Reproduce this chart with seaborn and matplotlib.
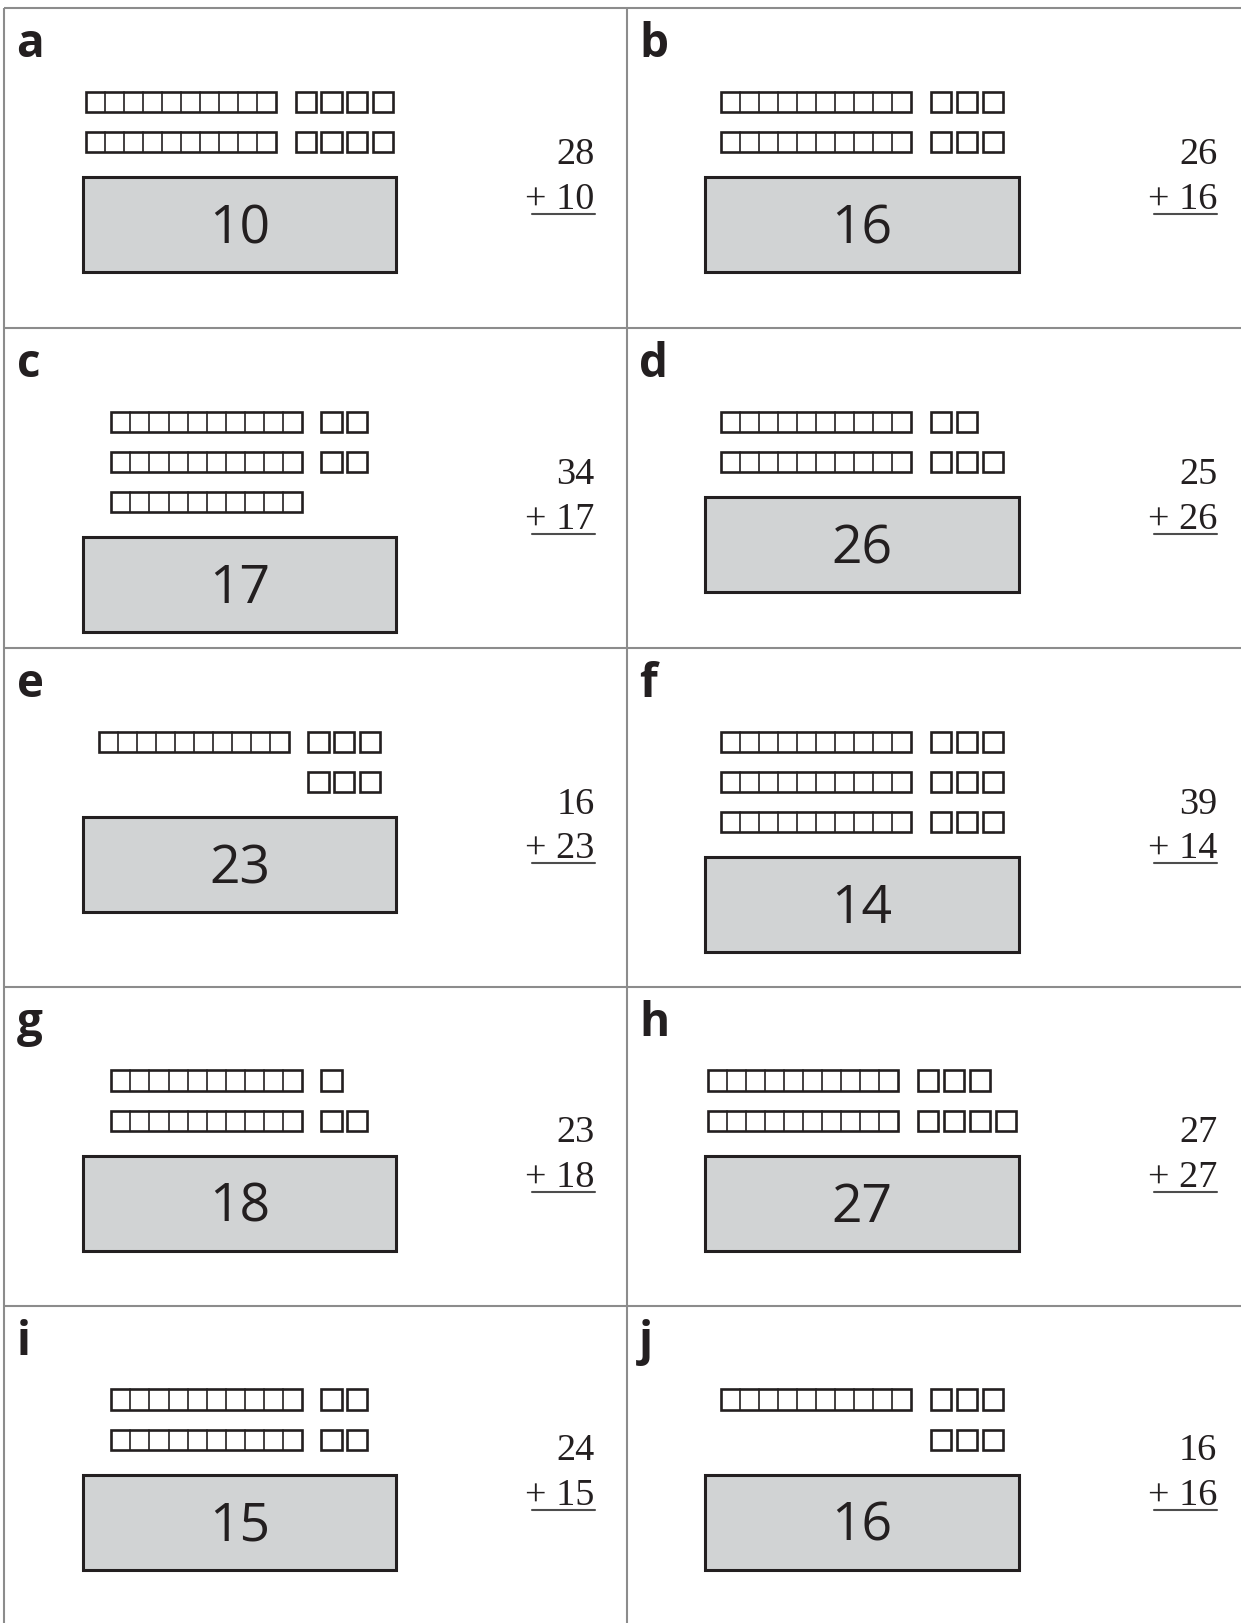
import seaborn as sns
import matplotlib.pyplot as plt
from matplotlib.patches import Rectangle

sns.set_theme(style="white")
plt.rcParams['font.family'] = ['Open Sans', 'DejaVu Sans']

# worksheet data
labels = ["a", "b", "c", "d", "e", "f", "g", "h", "i", "j"]
top_nums = [28, 26, 34, 25, 16, 39, 23, 27, 24, 16]
add_nums = [10, 16, 17, 26, 23, 14, 18, 27, 15, 16]
box_nums = [10, 16, 17, 26, 23, 14, 18, 27, 15, 16]
# per panel: rod (ten) present in each row, and ones in each row
rods = [[1, 1], [1, 1], [1, 1, 1], [1, 1], [1, 0],
        [1, 1, 1], [1, 1], [1, 1], [1, 1], [1, 0]]
ones = [[4, 4], [3, 3], [2, 2, 0], [2, 3], [3, 3],
        [3, 3, 3], [1, 2], [3, 4], [2, 2], [3, 3]]

# page layout (in page units, page is 1200 x 1568)
W, H = 1200, 1568
row_tops = [9, 318, 627, 954, 1262]
row_bots = [318, 627, 954, 1262, H]
col_lefts = [4, 606]
cell_w, cell_h = 18.4, 19.5
rod_w = 10 * cell_w
gap = 19
one_w, one_pitch = 19.5, 25
row_pitch = 38.7
box_w, box_h = 303, 92
grey_line = "#8c8c8c"

fig = plt.figure(figsize=(12.41, 16.24), dpi=100)
ax = fig.add_axes([0, 0, 1, 1])
ax.set_xlim(0, W)
ax.set_ylim(H, 0)
ax.axis("off")

# grid lines
for y in row_tops:
    ax.plot([col_lefts[0], W], [y, y], color=grey_line, lw=1.5, solid_capstyle="butt")
for x in col_lefts:
    ax.plot([x, x], [row_tops[0], H], color=grey_line, lw=1.5, solid_capstyle="butt")

for i, lab in enumerate(labels):
    r, c = divmod(i, 2)
    x0 = col_lefts[c]
    top, bot = row_tops[r], row_bots[r]
    cx = x0 + 227.5

    ax.text(x0 + 12, top + 46, lab, fontsize=33, fontweight="bold",
            color="#231f20", ha="left", va="baseline")

    # blocks, centred as a group over the box
    max_ones = max(ones[i])
    group_w = rod_w + gap + max_ones * one_pitch - (one_pitch - one_w)
    gx = cx - group_w / 2
    ox = gx + rod_w + gap
    y = top + 80.5
    for has_rod, n in zip(rods[i], ones[i]):
        if has_rod:
            for k in range(1, 10):
                ax.plot([gx + k * cell_w] * 2, [y, y + cell_h], color="#231f20", lw=1.2)
            ax.add_patch(Rectangle((gx, y), rod_w, cell_h, facecolor="none",
                                   edgecolor="#231f20", lw=1.9))
        for k in range(n):
            ax.add_patch(Rectangle((ox + k * one_pitch, y), one_w, cell_h,
                                   facecolor="white", edgecolor="#231f20", lw=1.9))
        y += row_pitch

    # answer box
    by = y - row_pitch + 43.5
    ax.add_patch(Rectangle((cx - box_w / 2, by), box_w, box_h, facecolor="#d1d3d4",
                           edgecolor="#231f20", lw=2.2))
    ax.text(cx, by + 63, str(box_nums[i]), fontsize=38.5, color="#231f20",
            ha="center", va="baseline")

    # vertical sum
    mid = (top + bot) / 2 + 5
    rx = x0 + 571
    ax.text(rx, mid - 10, str(top_nums[i]), fontsize=27.5, family="Liberation Serif",
            color="#231f20", ha="right", va="baseline")
    ax.text(rx, mid + 33, "+ " + str(add_nums[i]), fontsize=27.5, family="Liberation Serif",
            color="#231f20", ha="right", va="baseline")
    ax.plot([x0 + 510, rx], [mid + 39, mid + 39], color="#4d4d4d", lw=1.5)

fig.savefig("out.png", dpi=100)
